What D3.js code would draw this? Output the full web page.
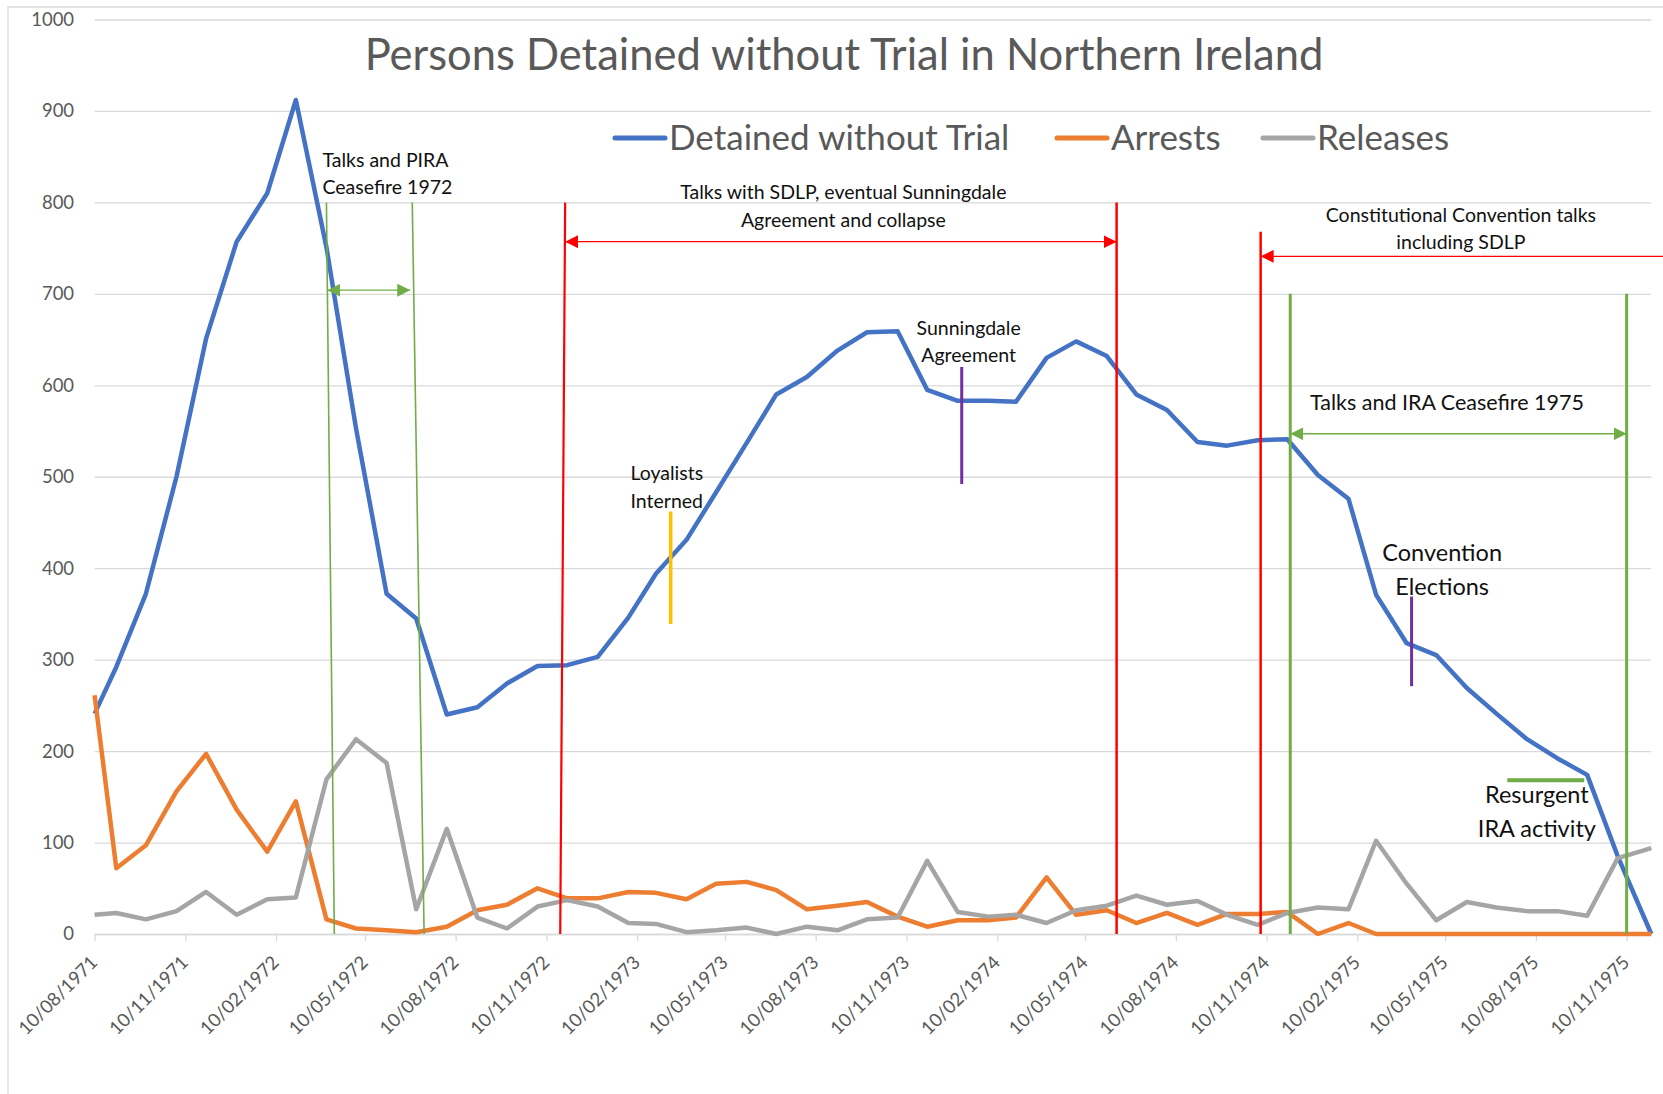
<!DOCTYPE html>
<html>
<head>
<meta charset="utf-8">
<script src="https://cdn.jsdelivr.net/npm/d3@7"></script>
<style>
  body { margin: 0; background: #fff; }
  svg { display: block; font-family: Lato, "Open Sans", sans-serif; }
</style>
</head>
<body>
<svg id="chart" width="1663" height="1094"></svg>
<script>
// monthly counts, first point is the start of internment and last is its end
var dates = ["1971-08-10","1971-09-01","1971-10-01","1971-11-01","1971-12-01",
  "1972-01-01","1972-02-01","1972-03-01","1972-04-01","1972-05-01","1972-06-01",
  "1972-07-01","1972-08-01","1972-09-01","1972-10-01","1972-11-01","1972-12-01",
  "1973-01-01","1973-02-01","1973-03-01","1973-04-01","1973-05-01","1973-06-01",
  "1973-07-01","1973-08-01","1973-09-01","1973-10-01","1973-11-01","1973-12-01",
  "1974-01-01","1974-02-01","1974-03-01","1974-04-01","1974-05-01","1974-06-01",
  "1974-07-01","1974-08-01","1974-09-01","1974-10-01","1974-11-01","1974-12-01",
  "1975-01-01","1975-02-01","1975-03-01","1975-04-01","1975-05-01","1975-06-01",
  "1975-07-01","1975-08-01","1975-09-01","1975-10-01","1975-11-01","1975-12-05"];

var detained = [241,292,372,500,651,757,810,912,751,553,372,345,240,248,274,293,294,
  303,346,394,431,483,537,590,609,638,658,659,595,583,583,582,630,648,632,590,573,
  538,534,540,541,502,476,371,318,305,269,241,213,192,174,85,0];

var arrests = [261,72,97,156,197,136,90,145,16,6,4,2,8,26,32,50,39,
  39,46,45,38,55,57,48,27,31,35,19,8,15,15,18,62,21,26,12,23,
  10,22,22,24,0,12,0,0,0,0,0,0,0,0,0,0];

var releases = [21,23,16,25,46,21,38,40,169,213,187,27,115,18,6,30,37,
  30,12,11,2,4,7,0,8,4,16,18,80,24,19,21,12,26,31,42,32,
  36,21,10,23,29,27,102,55,15,35,29,25,25,20,83,94];

var seriesNames = ["Detained without Trial", "Arrests", "Releases"];
var tickLabels = ["10/08/1971","10/11/1971","10/02/1972","10/05/1972","10/08/1972",
  "10/11/1972","10/02/1973","10/05/1973","10/08/1973","10/11/1973","10/02/1974",
  "10/05/1974","10/08/1974","10/11/1974","10/02/1975","10/05/1975","10/08/1975",
  "10/11/1975"];
var yTicks = [0,100,200,300,400,500,600,700,800,900,1000];

var colors = ["#4472C4", "#ED7D31", "#A5A5A5"];
var green = "#70AD47", red = "#FF0000", purple = "#7030A0", yellow = "#FFC000";

var parse = d3.timeParse("%Y-%m-%d");
var parseTick = d3.timeParse("%d/%m/%Y");

var svg = d3.select("#chart");
var left = 94.6, right = 1651.3;

var x = d3.scaleTime()
  .domain([parse(dates[0]), parse(dates[dates.length - 1])])
  .range([left, right]);
var y = d3.scaleLinear().domain([0, 1000]).range([934, 19.5]);

// chart area border (only the top and left edges show)
svg.append("path")
  .attr("d", "M8,1094V7H1663")
  .attr("fill", "none")
  .attr("stroke", "#d9d9d9")
  .attr("stroke-width", 1.3);

// gridlines
var grid = svg.append("g")
  .attr("transform", "translate(" + left + ",0)")
  .call(d3.axisLeft(y).tickValues(yTicks).tickSize(-(right - left)).tickFormat(""));
grid.select(".domain").remove();
grid.selectAll("line").attr("stroke", "#d9d9d9").attr("stroke-width", 1.3);

// y labels
var yAxis = svg.append("g")
  .attr("transform", "translate(" + left + ",0)")
  .call(d3.axisLeft(y).tickValues(yTicks).tickSize(0).tickPadding(20.5).tickFormat(d3.format("d")));
yAxis.select(".domain").remove();
yAxis.selectAll("text")
  .attr("fill", "#595959")
  .style("font-size", "18.5px")
  .style("font-family", "Lato, sans-serif");

// x axis
var xAxis = svg.append("g")
  .attr("transform", "translate(0," + y(0) + ")")
  .call(d3.axisBottom(x)
    .tickValues(tickLabels.map(function(t) { return parseTick(t); }))
    .tickFormat(d3.timeFormat("%d/%m/%Y"))
    .tickSize(7)
    .tickSizeOuter(0));
xAxis.select(".domain").attr("stroke", "#d9d9d9").attr("stroke-width", 1.3);
xAxis.selectAll(".tick line").attr("stroke", "#d9d9d9").attr("stroke-width", 1.3);
xAxis.selectAll("text")
  .attr("fill", "#595959")
  .style("font-size", "18.5px")
  .style("font-family", "Lato, sans-serif")
  .attr("text-anchor", "end")
  .attr("y", 0)
  .attr("dy", "0.35em")
  .attr("transform", "translate(-1,25) rotate(-45)");

// series lines
var allSeries = [detained, arrests, releases];
var line = d3.line()
  .x(function(d) { return x(d.date); })
  .y(function(d) { return y(d.v); });

allSeries.forEach(function(vals, i) {
  var pts = vals.map(function(v, j) { return { date: parse(dates[j]), v: v }; });
  svg.append("path")
    .datum(pts)
    .attr("d", line)
    .attr("fill", "none")
    .attr("stroke", colors[i])
    .attr("stroke-width", 4.5)
    .attr("stroke-linejoin", "round");
});

// title
svg.append("text")
  .attr("x", 844)
  .attr("y", 70)
  .attr("text-anchor", "middle")
  .attr("fill", "#595959")
  .style("font-size", "43.5px")
  .text("Persons Detained without Trial in Northern Ireland");

// legend
var legendX = [615, 1057, 1263];
seriesNames.forEach(function(name, i) {
  var g = svg.append("g").attr("transform", "translate(" + legendX[i] + ",138)");
  g.append("line")
    .attr("x1", 0).attr("x2", 50)
    .attr("stroke", colors[i]).attr("stroke-width", 5).attr("stroke-linecap", "round");
  g.append("text")
    .attr("x", 54).attr("y", 12)
    .attr("fill", "#595959")
    .style("font-size", "35px")
    .text(name);
});

// annotation markers
var defs = svg.append("defs");
[["g", green], ["r", red]].forEach(function(m) {
  defs.append("marker")
    .attr("id", "end-" + m[0])
    .attr("viewBox", "0 0 10 10")
    .attr("refX", 10).attr("refY", 5)
    .attr("markerUnits", "userSpaceOnUse")
    .attr("markerWidth", 13).attr("markerHeight", 13)
    .attr("orient", "auto")
    .append("path").attr("d", "M0,0L10,5L0,10Z").attr("fill", m[1]);
  defs.append("marker")
    .attr("id", "start-" + m[0])
    .attr("viewBox", "0 0 10 10")
    .attr("refX", 0).attr("refY", 5)
    .attr("markerUnits", "userSpaceOnUse")
    .attr("markerWidth", 13).attr("markerHeight", 13)
    .attr("orient", "auto")
    .append("path").attr("d", "M10,0L0,5L10,10Z").attr("fill", m[1]);
});

// vertical annotation lines (date at top, date at bottom, value range)
var vMarks = [
  { d0: "1972-04-01", d1: "1972-04-09", v0: 800, v1: 0, c: green, w: 1.6 },
  { d0: "1972-06-27", d1: "1972-07-09", v0: 800, v1: 0, c: green, w: 1.6 },
  { d0: "1972-11-29", d1: "1972-11-24", v0: 800, v1: 0, c: red, w: 2.2 },
  { d0: "1974-06-11", d1: "1974-06-11", v0: 800, v1: 0, c: red, w: 2.5 },
  { d0: "1974-11-04", d1: "1974-11-04", v0: 768, v1: 0, c: red, w: 2.5 },
  { d0: "1974-12-04", d1: "1974-12-04", v0: 700, v1: 0, c: green, w: 3 },
  { d0: "1975-11-10", d1: "1975-11-10", v0: 700, v1: 0, c: green, w: 3 },
  { d0: "1974-01-05", d1: "1974-01-05", v0: 620, v1: 492, c: purple, w: 3 },
  { d0: "1973-03-16", d1: "1973-03-16", v0: 462, v1: 339, c: yellow, w: 3.5 },
  { d0: "1975-04-06", d1: "1975-04-06", v0: 369, v1: 271, c: purple, w: 3 }
];
svg.append("g").selectAll("line")
  .data(vMarks)
  .enter().append("line")
  .attr("x1", function(d) { return x(parse(d.d0)); })
  .attr("x2", function(d) { return x(parse(d.d1)); })
  .attr("y1", function(d) { return y(d.v0); })
  .attr("y2", function(d) { return y(d.v1); })
  .attr("stroke", function(d) { return d.c; })
  .attr("stroke-width", function(d) { return d.w; });

// horizontal spans
var hMarks = [
  { d0: "1972-04-02", d1: "1972-06-25", v: 704, c: green, w: 1.3, m: "g", heads: "both" },
  { d0: "1972-11-29", d1: "1974-06-11", v: 757, c: red, w: 1.2, m: "r", heads: "both" },
  { d0: "1974-11-04", d1: "1976-01-01", v: 741, c: red, w: 1.2, m: "r", heads: "start" },
  { d0: "1974-12-04", d1: "1975-11-10", v: 547, c: green, w: 1.5, m: "g", heads: "both" },
  { d0: "1975-07-12", d1: "1975-09-28", v: 168, c: green, w: 4, m: "g", heads: "none" }
];
svg.append("g").selectAll("line")
  .data(hMarks)
  .enter().append("line")
  .attr("x1", function(d) { return x(parse(d.d0)); })
  .attr("x2", function(d) { return x(parse(d.d1)); })
  .attr("y1", function(d) { return y(d.v); })
  .attr("y2", function(d) { return y(d.v); })
  .attr("stroke", function(d) { return d.c; })
  .attr("stroke-width", function(d) { return d.w; })
  .attr("marker-start", function(d) { return d.heads != "none" ? "url(#start-" + d.m + ")" : null; })
  .attr("marker-end", function(d) { return d.heads == "both" ? "url(#end-" + d.m + ")" : null; });

// annotation text
var notes = [
  { t: ["Talks and PIRA", "Ceasefire 1972"], d: "1972-03-28", v: [839, 809], a: "start", s: 19.5 },
  { t: ["Talks with SDLP, eventual Sunningdale", "Agreement and collapse"], d: "1973-09-07", v: [804, 773], a: "middle", s: 19.5 },
  { t: ["Constitutional Convention talks", "including SDLP"], d: "1975-05-26", v: [779, 749], a: "middle", s: 19.5 },
  { t: ["Talks and IRA Ceasefire 1975"], d: "1974-12-24", v: [573], a: "start", s: 21.5 },
  { t: ["Sunningdale", "Agreement"], d: "1974-01-12", v: [655, 625], a: "middle", s: 19.5 },
  { t: ["Loyalists", "Interned"], d: "1973-03-12", v: [496, 466], a: "middle", s: 19.5 },
  { t: ["Convention", "Elections"], d: "1975-05-07", v: [408, 371], a: "middle", s: 23.5 },
  { t: ["Resurgent", "IRA activity"], d: "1975-08-11", v: [143, 106], a: "middle", s: 23.5 }
];
notes.forEach(function(n) {
  n.t.forEach(function(str, k) {
    svg.append("text")
      .attr("x", x(parse(n.d)))
      .attr("y", y(n.v[k]))
      .attr("text-anchor", n.a)
      .attr("fill", "#111")
      .style("font-size", n.s + "px")
      .text(str);
  });
});
</script>
</body>
</html>
